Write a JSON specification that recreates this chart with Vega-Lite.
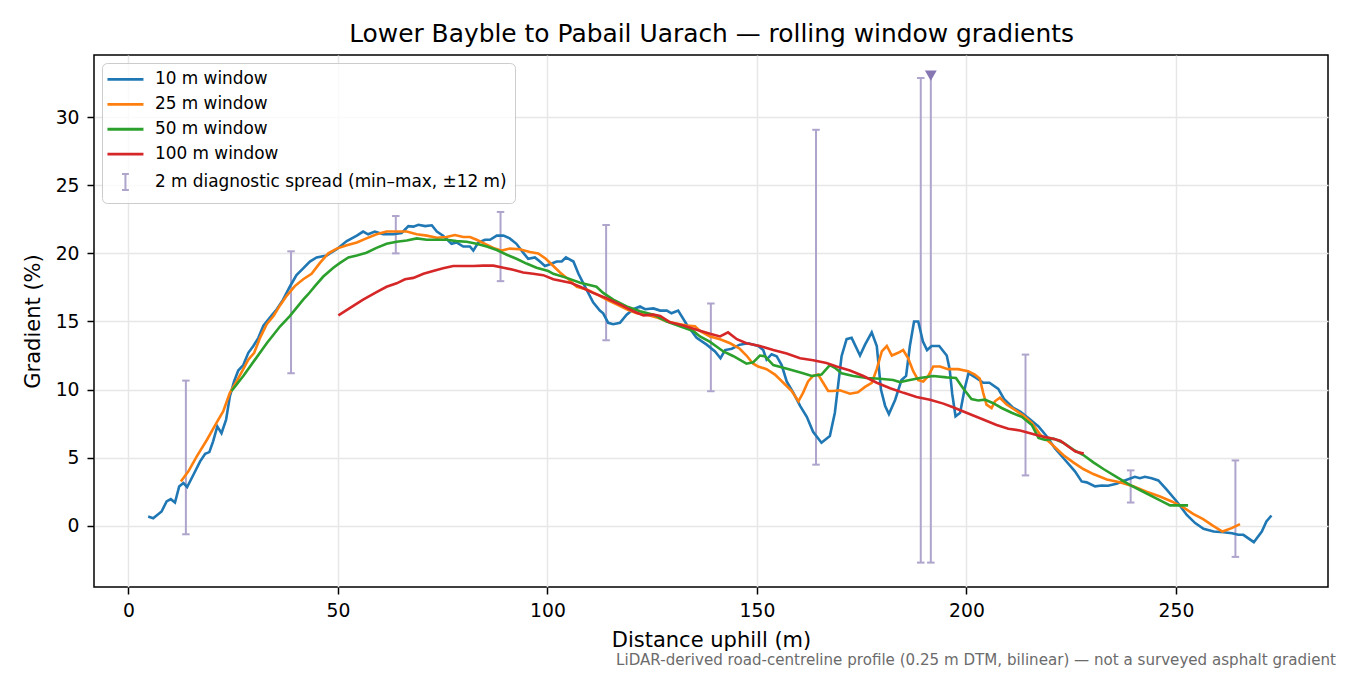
{
  "$schema": "https://vega.github.io/schema/vega-lite/v6.json",
  "background": "white",
  "autosize": {"type": "none"},
  "width": 1234,
  "height": 532,
  "padding": {"left": 94, "top": 55, "right": 22, "bottom": 88},
  "config": {
    "font": "DejaVu Sans",
    "view": {"stroke": "black", "strokeWidth": 1.5},
    "axis": {
      "grid": true,
      "gridColor": "#e7e7e7",
      "gridWidth": 1.5,
      "domain": false,
      "tickColor": "black",
      "tickWidth": 1.5,
      "tickSize": 7,
      "labelFontSize": 18.75,
      "labelColor": "black",
      "titleFontSize": 21,
      "titleColor": "black",
      "titleFontWeight": "normal"
    },
    "title": {"fontWeight": "normal", "color": "black"}
  },
  "title": {
    "text": "LiDAR-derived road-centreline profile (0.25 m DTM, bilinear) — not a surveyed asphalt gradient",
    "orient": "bottom",
    "anchor": "end",
    "fontSize": 15.1,
    "color": "#6b6b6b",
    "offset": 2.4,
    "dx": 8
  },
  "datasets": {
    "spread": [
      {"d": 13.7, "lo": -0.62, "hi": 10.66, "clipped": false},
      {"d": 38.8, "lo": 11.2, "hi": 20.15, "clipped": false},
      {"d": 63.8, "lo": 20.0, "hi": 22.74, "clipped": false},
      {"d": 88.8, "lo": 17.96, "hi": 23.04, "clipped": false},
      {"d": 114.0, "lo": 13.63, "hi": 22.08, "clipped": false},
      {"d": 139.0, "lo": 9.88, "hi": 16.32, "clipped": false},
      {"d": 164.1, "lo": 4.49, "hi": 29.07, "clipped": false},
      {"d": 189.1, "lo": -2.7, "hi": 32.87, "clipped": false},
      {"d": 191.5, "lo": -2.7, "hi": 33.05, "clipped": true},
      {"d": 214.1, "lo": 3.7, "hi": 12.57, "clipped": false},
      {"d": 239.2, "lo": 1.71, "hi": 4.07, "clipped": false},
      {"d": 264.2, "lo": -2.28, "hi": 4.8, "clipped": false}
    ],
    "w10": [
      {"d": 4.7, "g": 0.68}, {"d": 5.9, "g": 0.56}, {"d": 7.9, "g": 1.05}, {"d": 9.1, "g": 1.79},
      {"d": 10.1, "g": 1.96}, {"d": 11.1, "g": 1.71}, {"d": 12.1, "g": 2.89}, {"d": 13.1, "g": 3.14},
      {"d": 14.0, "g": 2.85}, {"d": 15.5, "g": 3.75}, {"d": 17.1, "g": 4.73}, {"d": 18.3, "g": 5.29},
      {"d": 19.3, "g": 5.41}, {"d": 20.2, "g": 6.2}, {"d": 21.2, "g": 7.3}, {"d": 22.2, "g": 6.8},
      {"d": 23.3, "g": 7.8}, {"d": 24.2, "g": 9.5}, {"d": 25.2, "g": 10.6}, {"d": 26.2, "g": 11.4},
      {"d": 27.4, "g": 11.8}, {"d": 28.6, "g": 12.7}, {"d": 29.8, "g": 13.2}, {"d": 31.0, "g": 13.8},
      {"d": 32.2, "g": 14.7}, {"d": 33.8, "g": 15.3}, {"d": 35.4, "g": 15.9}, {"d": 36.9, "g": 16.6},
      {"d": 38.5, "g": 17.55}, {"d": 40.1, "g": 18.4}, {"d": 41.7, "g": 18.9}, {"d": 43.3, "g": 19.4},
      {"d": 44.9, "g": 19.7}, {"d": 47.3, "g": 19.85}, {"d": 49.7, "g": 20.3}, {"d": 52.1, "g": 20.9},
      {"d": 54.5, "g": 21.3}, {"d": 56.0, "g": 21.6}, {"d": 57.2, "g": 21.4}, {"d": 58.8, "g": 21.6},
      {"d": 60.8, "g": 21.4}, {"d": 63.2, "g": 21.4}, {"d": 65.2, "g": 21.5}, {"d": 66.8, "g": 22.0},
      {"d": 68.0, "g": 21.96}, {"d": 69.2, "g": 22.1}, {"d": 70.8, "g": 22.0}, {"d": 72.4, "g": 22.06},
      {"d": 73.6, "g": 21.6}, {"d": 75.1, "g": 21.3}, {"d": 77.1, "g": 20.7}, {"d": 78.3, "g": 20.8},
      {"d": 79.9, "g": 20.5}, {"d": 81.5, "g": 20.5}, {"d": 82.3, "g": 20.2}, {"d": 83.5, "g": 20.8},
      {"d": 85.1, "g": 21.0}, {"d": 86.3, "g": 21.0}, {"d": 87.9, "g": 21.3}, {"d": 89.5, "g": 21.3},
      {"d": 91.0, "g": 21.1}, {"d": 92.6, "g": 20.7}, {"d": 94.2, "g": 20.05}, {"d": 95.4, "g": 19.6},
      {"d": 97.0, "g": 19.7}, {"d": 98.2, "g": 19.4}, {"d": 99.4, "g": 19.07}, {"d": 100.6, "g": 19.2},
      {"d": 102.2, "g": 19.4}, {"d": 103.4, "g": 19.4}, {"d": 104.4, "g": 19.7}, {"d": 106.2, "g": 19.4},
      {"d": 107.4, "g": 18.5}, {"d": 108.9, "g": 17.6}, {"d": 110.9, "g": 16.4}, {"d": 112.5, "g": 15.8},
      {"d": 113.3, "g": 15.6}, {"d": 114.5, "g": 14.9}, {"d": 115.7, "g": 14.8}, {"d": 117.3, "g": 14.9},
      {"d": 118.9, "g": 15.5}, {"d": 120.5, "g": 15.9}, {"d": 122.1, "g": 16.1}, {"d": 123.3, "g": 15.9},
      {"d": 125.3, "g": 15.96}, {"d": 126.9, "g": 15.8}, {"d": 128.5, "g": 15.8}, {"d": 129.6, "g": 15.6},
      {"d": 131.2, "g": 15.8}, {"d": 133.2, "g": 14.8}, {"d": 135.6, "g": 13.8}, {"d": 138.0, "g": 13.3},
      {"d": 140.0, "g": 12.8}, {"d": 141.3, "g": 12.3}, {"d": 142.4, "g": 12.9}, {"d": 144.0, "g": 13.0},
      {"d": 145.9, "g": 13.3}, {"d": 147.9, "g": 13.4}, {"d": 150.3, "g": 13.2}, {"d": 151.5, "g": 12.9},
      {"d": 152.3, "g": 12.2}, {"d": 153.5, "g": 12.6}, {"d": 154.7, "g": 12.45}, {"d": 155.9, "g": 11.8},
      {"d": 157.1, "g": 10.6}, {"d": 158.7, "g": 9.76}, {"d": 160.3, "g": 8.8}, {"d": 161.9, "g": 8.0},
      {"d": 163.4, "g": 6.9}, {"d": 165.4, "g": 6.1}, {"d": 167.4, "g": 6.6}, {"d": 168.6, "g": 8.3},
      {"d": 170.2, "g": 12.45}, {"d": 171.4, "g": 13.7}, {"d": 172.6, "g": 13.8}, {"d": 174.6, "g": 12.5},
      {"d": 175.8, "g": 13.3}, {"d": 177.4, "g": 14.2}, {"d": 178.6, "g": 13.2}, {"d": 179.6, "g": 10.0},
      {"d": 180.6, "g": 8.8}, {"d": 181.5, "g": 8.2}, {"d": 183.0, "g": 9.26}, {"d": 184.5, "g": 10.7},
      {"d": 185.6, "g": 11.0}, {"d": 186.5, "g": 13.2}, {"d": 187.5, "g": 15.0}, {"d": 188.5, "g": 15.0},
      {"d": 189.6, "g": 13.55}, {"d": 190.6, "g": 12.9}, {"d": 191.7, "g": 13.2}, {"d": 193.5, "g": 13.2},
      {"d": 195.3, "g": 12.5}, {"d": 196.0, "g": 11.5}, {"d": 196.6, "g": 9.7}, {"d": 197.4, "g": 8.04},
      {"d": 198.5, "g": 8.3}, {"d": 199.6, "g": 10.1}, {"d": 200.5, "g": 11.2}, {"d": 202.6, "g": 10.8},
      {"d": 204.0, "g": 10.5}, {"d": 205.5, "g": 10.5}, {"d": 207.6, "g": 10.05}, {"d": 209.0, "g": 9.3},
      {"d": 211.0, "g": 8.7}, {"d": 213.0, "g": 8.35}, {"d": 215.2, "g": 7.8}, {"d": 217.2, "g": 7.3},
      {"d": 219.1, "g": 6.6}, {"d": 221.1, "g": 5.7}, {"d": 223.5, "g": 4.85}, {"d": 225.9, "g": 4.0},
      {"d": 227.5, "g": 3.26}, {"d": 228.7, "g": 3.19}, {"d": 230.7, "g": 2.9}, {"d": 232.3, "g": 2.96},
      {"d": 233.8, "g": 2.94}, {"d": 235.8, "g": 3.09}, {"d": 237.8, "g": 3.33}, {"d": 240.2, "g": 3.6},
      {"d": 241.4, "g": 3.5}, {"d": 242.6, "g": 3.6}, {"d": 244.2, "g": 3.5}, {"d": 245.8, "g": 3.33},
      {"d": 247.8, "g": 2.65}, {"d": 250.2, "g": 1.79}, {"d": 252.6, "g": 0.8}, {"d": 254.6, "g": 0.2},
      {"d": 256.6, "g": -0.22}, {"d": 259.0, "g": -0.42}, {"d": 261.4, "g": -0.47}, {"d": 263.4, "g": -0.54},
      {"d": 264.9, "g": -0.66}, {"d": 266.1, "g": -0.66}, {"d": 268.6, "g": -1.2}, {"d": 270.5, "g": -0.42},
      {"d": 271.6, "g": 0.32}, {"d": 272.8, "g": 0.76}
    ],
    "w25": [
      {"d": 12.5, "g": 3.26}, {"d": 14.3, "g": 4.0}, {"d": 16.3, "g": 5.1}, {"d": 18.7, "g": 6.3},
      {"d": 21.0, "g": 7.55}, {"d": 22.6, "g": 8.4}, {"d": 24.2, "g": 9.76}, {"d": 25.8, "g": 10.6},
      {"d": 27.4, "g": 11.5}, {"d": 28.6, "g": 12.2}, {"d": 30.0, "g": 12.7}, {"d": 31.4, "g": 13.8},
      {"d": 33.0, "g": 14.8}, {"d": 34.6, "g": 15.4}, {"d": 36.2, "g": 16.2}, {"d": 37.8, "g": 16.9},
      {"d": 39.7, "g": 17.6}, {"d": 41.7, "g": 18.1}, {"d": 43.7, "g": 18.5}, {"d": 45.7, "g": 19.3},
      {"d": 47.7, "g": 20.0}, {"d": 49.7, "g": 20.35}, {"d": 52.1, "g": 20.6}, {"d": 54.5, "g": 20.8},
      {"d": 56.8, "g": 21.1}, {"d": 59.2, "g": 21.4}, {"d": 61.6, "g": 21.6}, {"d": 64.0, "g": 21.6},
      {"d": 66.4, "g": 21.6}, {"d": 68.8, "g": 21.4}, {"d": 71.2, "g": 21.3}, {"d": 73.6, "g": 21.15},
      {"d": 75.9, "g": 21.2}, {"d": 77.9, "g": 21.35}, {"d": 79.9, "g": 21.2}, {"d": 81.5, "g": 21.2},
      {"d": 83.1, "g": 21.0}, {"d": 85.1, "g": 20.7}, {"d": 87.1, "g": 20.4}, {"d": 89.1, "g": 20.2},
      {"d": 91.0, "g": 20.35}, {"d": 93.4, "g": 20.3}, {"d": 95.8, "g": 20.1}, {"d": 97.8, "g": 20.0},
      {"d": 99.6, "g": 19.6}, {"d": 101.4, "g": 19.07}, {"d": 103.0, "g": 18.6}, {"d": 104.6, "g": 18.2},
      {"d": 107.0, "g": 17.55}, {"d": 109.4, "g": 17.35}, {"d": 111.7, "g": 17.0}, {"d": 114.1, "g": 16.6},
      {"d": 116.5, "g": 16.25}, {"d": 118.9, "g": 15.9}, {"d": 121.3, "g": 15.6}, {"d": 123.7, "g": 15.5},
      {"d": 126.1, "g": 15.3}, {"d": 128.5, "g": 15.0}, {"d": 130.8, "g": 14.85}, {"d": 133.2, "g": 14.7},
      {"d": 135.2, "g": 14.65}, {"d": 136.4, "g": 14.3}, {"d": 138.8, "g": 13.9}, {"d": 141.2, "g": 13.7},
      {"d": 143.6, "g": 13.4}, {"d": 145.9, "g": 13.0}, {"d": 147.5, "g": 12.5}, {"d": 149.1, "g": 11.9},
      {"d": 150.3, "g": 11.7}, {"d": 152.3, "g": 11.5}, {"d": 154.3, "g": 11.1}, {"d": 156.3, "g": 10.5},
      {"d": 158.3, "g": 9.9}, {"d": 159.9, "g": 9.14}, {"d": 161.0, "g": 9.76}, {"d": 162.2, "g": 10.6},
      {"d": 163.4, "g": 11.0}, {"d": 164.6, "g": 11.1}, {"d": 165.8, "g": 10.5}, {"d": 167.0, "g": 9.9},
      {"d": 168.2, "g": 9.9}, {"d": 169.8, "g": 9.95}, {"d": 172.2, "g": 9.7}, {"d": 174.1, "g": 9.8},
      {"d": 175.8, "g": 10.2}, {"d": 177.4, "g": 10.5}, {"d": 178.6, "g": 11.5}, {"d": 179.8, "g": 12.8},
      {"d": 181.0, "g": 13.2}, {"d": 182.2, "g": 12.5}, {"d": 183.7, "g": 12.7}, {"d": 184.9, "g": 12.9},
      {"d": 186.1, "g": 12.3}, {"d": 187.3, "g": 11.35}, {"d": 188.5, "g": 10.7}, {"d": 189.7, "g": 10.6},
      {"d": 190.9, "g": 11.0}, {"d": 192.1, "g": 11.7}, {"d": 193.7, "g": 11.7}, {"d": 195.6, "g": 11.5},
      {"d": 198.0, "g": 11.5}, {"d": 200.4, "g": 11.35}, {"d": 202.0, "g": 11.1}, {"d": 203.2, "g": 10.8},
      {"d": 204.0, "g": 9.76}, {"d": 204.8, "g": 8.9}, {"d": 206.0, "g": 8.65}, {"d": 206.8, "g": 9.14},
      {"d": 208.0, "g": 9.4}, {"d": 209.6, "g": 8.9}, {"d": 211.6, "g": 8.5}, {"d": 213.6, "g": 8.1},
      {"d": 215.6, "g": 7.55}, {"d": 217.6, "g": 6.7}, {"d": 220.0, "g": 6.1}, {"d": 223.1, "g": 5.2},
      {"d": 225.5, "g": 4.66}, {"d": 227.9, "g": 4.17}, {"d": 230.3, "g": 3.8}, {"d": 233.5, "g": 3.4},
      {"d": 236.6, "g": 3.2}, {"d": 239.8, "g": 2.9}, {"d": 243.0, "g": 2.5}, {"d": 246.2, "g": 2.15},
      {"d": 249.0, "g": 1.79}, {"d": 251.7, "g": 1.37}, {"d": 254.1, "g": 0.88}, {"d": 256.5, "g": 0.49},
      {"d": 258.9, "g": 0.0}, {"d": 261.1, "g": -0.42}, {"d": 263.3, "g": -0.17}, {"d": 265.3, "g": 0.12}
    ],
    "w50": [
      {"d": 24.6, "g": 9.9}, {"d": 27.4, "g": 11.0}, {"d": 30.2, "g": 12.2}, {"d": 33.0, "g": 13.4},
      {"d": 36.2, "g": 14.65}, {"d": 38.5, "g": 15.4}, {"d": 40.1, "g": 16.0}, {"d": 41.7, "g": 16.6},
      {"d": 42.9, "g": 17.0}, {"d": 44.5, "g": 17.6}, {"d": 46.5, "g": 18.3}, {"d": 48.9, "g": 18.95},
      {"d": 50.5, "g": 19.3}, {"d": 52.5, "g": 19.7}, {"d": 54.5, "g": 19.85}, {"d": 56.8, "g": 20.05},
      {"d": 59.2, "g": 20.4}, {"d": 61.6, "g": 20.7}, {"d": 64.0, "g": 20.85}, {"d": 66.4, "g": 20.95},
      {"d": 68.8, "g": 21.1}, {"d": 71.2, "g": 21.0}, {"d": 73.6, "g": 21.0}, {"d": 75.9, "g": 21.0},
      {"d": 78.3, "g": 20.9}, {"d": 80.7, "g": 20.85}, {"d": 83.1, "g": 20.7}, {"d": 85.5, "g": 20.5},
      {"d": 87.9, "g": 20.25}, {"d": 90.3, "g": 19.9}, {"d": 92.6, "g": 19.6}, {"d": 95.0, "g": 19.25},
      {"d": 97.4, "g": 18.95}, {"d": 100.2, "g": 18.7}, {"d": 101.4, "g": 18.5}, {"d": 104.6, "g": 18.2},
      {"d": 107.8, "g": 17.85}, {"d": 111.7, "g": 17.55}, {"d": 113.3, "g": 17.1}, {"d": 115.7, "g": 16.6},
      {"d": 118.9, "g": 16.1}, {"d": 122.1, "g": 15.75}, {"d": 125.3, "g": 15.5}, {"d": 128.5, "g": 15.0},
      {"d": 131.6, "g": 14.65}, {"d": 134.8, "g": 14.3}, {"d": 136.4, "g": 13.9}, {"d": 138.8, "g": 13.5},
      {"d": 142.0, "g": 12.8}, {"d": 144.4, "g": 12.45}, {"d": 147.5, "g": 11.9}, {"d": 149.1, "g": 12.0},
      {"d": 150.7, "g": 12.5}, {"d": 151.9, "g": 12.45}, {"d": 153.9, "g": 11.8}, {"d": 156.3, "g": 11.6},
      {"d": 158.7, "g": 11.4}, {"d": 161.0, "g": 11.2}, {"d": 163.1, "g": 11.0}, {"d": 165.4, "g": 11.1},
      {"d": 167.4, "g": 11.8}, {"d": 168.6, "g": 11.6}, {"d": 170.2, "g": 11.2}, {"d": 173.0, "g": 11.0},
      {"d": 176.2, "g": 10.85}, {"d": 179.4, "g": 10.8}, {"d": 182.5, "g": 10.7}, {"d": 184.1, "g": 10.55},
      {"d": 186.5, "g": 10.7}, {"d": 188.9, "g": 10.85}, {"d": 192.1, "g": 11.0}, {"d": 195.3, "g": 10.9},
      {"d": 197.5, "g": 10.85}, {"d": 199.2, "g": 10.1}, {"d": 201.2, "g": 9.3}, {"d": 202.8, "g": 9.2},
      {"d": 204.4, "g": 9.26}, {"d": 206.4, "g": 9.0}, {"d": 208.4, "g": 8.65}, {"d": 210.8, "g": 8.3},
      {"d": 213.2, "g": 8.0}, {"d": 215.6, "g": 7.4}, {"d": 217.2, "g": 6.45}, {"d": 218.8, "g": 6.3},
      {"d": 220.8, "g": 6.4}, {"d": 223.1, "g": 6.1}, {"d": 225.5, "g": 5.6}, {"d": 227.9, "g": 5.2},
      {"d": 230.3, "g": 4.66}, {"d": 232.7, "g": 4.17}, {"d": 235.8, "g": 3.6}, {"d": 239.0, "g": 3.0},
      {"d": 242.2, "g": 2.5}, {"d": 245.4, "g": 2.0}, {"d": 248.6, "g": 1.5}, {"d": 251.0, "g": 1.5},
      {"d": 252.9, "g": 1.5}
    ],
    "w100": [
      {"d": 50.1, "g": 15.45}, {"d": 52.9, "g": 16.0}, {"d": 56.0, "g": 16.6}, {"d": 59.2, "g": 17.15},
      {"d": 61.6, "g": 17.55}, {"d": 64.0, "g": 17.8}, {"d": 66.0, "g": 18.1}, {"d": 68.0, "g": 18.2},
      {"d": 70.4, "g": 18.5}, {"d": 72.7, "g": 18.7}, {"d": 75.1, "g": 18.9}, {"d": 77.5, "g": 19.07},
      {"d": 79.9, "g": 19.07}, {"d": 82.3, "g": 19.07}, {"d": 84.7, "g": 19.1}, {"d": 87.1, "g": 19.1},
      {"d": 89.5, "g": 18.95}, {"d": 91.8, "g": 18.8}, {"d": 94.2, "g": 18.6}, {"d": 96.6, "g": 18.5},
      {"d": 99.0, "g": 18.4}, {"d": 101.4, "g": 18.1}, {"d": 105.4, "g": 17.85}, {"d": 107.8, "g": 17.55},
      {"d": 110.9, "g": 17.1}, {"d": 114.1, "g": 16.7}, {"d": 117.3, "g": 16.25}, {"d": 120.5, "g": 15.75},
      {"d": 122.9, "g": 15.45}, {"d": 125.3, "g": 15.5}, {"d": 126.9, "g": 15.4}, {"d": 129.2, "g": 14.95},
      {"d": 132.4, "g": 14.7}, {"d": 135.6, "g": 14.4}, {"d": 138.8, "g": 14.1}, {"d": 141.2, "g": 13.9},
      {"d": 143.1, "g": 14.2}, {"d": 145.2, "g": 13.7}, {"d": 147.5, "g": 13.4}, {"d": 150.7, "g": 13.2},
      {"d": 153.9, "g": 12.9}, {"d": 157.1, "g": 12.65}, {"d": 160.3, "g": 12.3}, {"d": 163.4, "g": 12.15},
      {"d": 166.6, "g": 11.95}, {"d": 169.0, "g": 11.7}, {"d": 172.2, "g": 11.4}, {"d": 175.4, "g": 11.0},
      {"d": 178.6, "g": 10.5}, {"d": 181.8, "g": 10.1}, {"d": 185.0, "g": 9.76}, {"d": 188.1, "g": 9.46},
      {"d": 191.3, "g": 9.26}, {"d": 194.5, "g": 8.97}, {"d": 196.8, "g": 8.7}, {"d": 200.0, "g": 8.3},
      {"d": 204.0, "g": 7.8}, {"d": 207.2, "g": 7.4}, {"d": 210.0, "g": 7.13}, {"d": 212.8, "g": 7.0},
      {"d": 215.2, "g": 6.8}, {"d": 217.6, "g": 6.6}, {"d": 220.0, "g": 6.45}, {"d": 222.4, "g": 6.25},
      {"d": 224.4, "g": 5.8}, {"d": 226.0, "g": 5.46}, {"d": 228.0, "g": 5.3}
    ]
  },
  "layer": [
    {
      "data": {"name": "spread"},
      "mark": {"type": "rule", "strokeWidth": 2},
      "encoding": {
        "x": {"field": "d", "type": "quantitative", "scale": {"domain": [-8.23, 286.3], "nice": false, "zero": false}, "axis": null},
        "y": {"field": "lo", "type": "quantitative", "scale": {"domain": [-4.49, 34.56], "nice": false, "zero": false}, "title": "Gradient (%)", "axis": {"values": [0, 5, 10, 15, 20, 25, 30], "grid": true, "labelPadding": 8, "titlePadding": 12}},
        "y2": {"field": "hi"},
        "color": {
          "datum": "2 m diagnostic spread (min–max, ±12 m)",
          "scale": {
            "domain": ["10 m window", "25 m window", "50 m window", "100 m window", "2 m diagnostic spread (min–max, ±12 m)"],
            "range": ["#1f77b4", "#ff7f0e", "#2ca02c", "#d62728", "#aea4cc"]
          },
          "legend": {
            "title": null,
            "orient": "none",
            "legendX": 8,
            "legendY": 8,
            "padding": 8,
            "rowPadding": 6.9,
            "symbolOffset": 7,
            "labelOffset": 21,
            "symbolSize": 324,
            "symbolStrokeWidth": 2.8,
            "symbolType": "M-2,0L2,0",
            "labelFontSize": 16.9,
            "labelColor": "black",
            "labelLimit": 600,
            "fillColor": "rgba(255,255,255,0.8)",
            "strokeColor": "#cccccc",
            "cornerRadius": 5,
            "encode": {
              "symbols": {
                "update": {
                  "shape": {"signal": "datum.index === 4 ? 'M0,-0.89L0,0.89M-0.38,-0.89L0.38,-0.89M-0.38,0.89L0.38,0.89' : 'M-2,0L2,0'"},
                  "strokeWidth": {"signal": "datum.index === 4 ? 2 : 2.8"}
                }
              }
            }
          }
        }
      }
    },
    {
      "data": {"name": "spread"},
      "mark": {"type": "tick", "orient": "horizontal", "size": 7.5, "thickness": 2, "color": "#aea4cc", "opacity": 1},
      "encoding": {
        "x": {"field": "d", "type": "quantitative", "axis": null},
        "y": {"field": "lo", "type": "quantitative", "title": "Gradient (%)", "axis": {"values": [0, 5, 10, 15, 20, 25, 30], "grid": true, "labelPadding": 8, "titlePadding": 12}}
      }
    },
    {
      "data": {"name": "spread"},
      "transform": [{"filter": "!datum.clipped"}],
      "mark": {"type": "tick", "orient": "horizontal", "size": 7.5, "thickness": 2, "color": "#aea4cc", "opacity": 1},
      "encoding": {
        "x": {"field": "d", "type": "quantitative", "axis": null},
        "y": {"field": "hi", "type": "quantitative", "title": "Gradient (%)", "axis": {"values": [0, 5, 10, 15, 20, 25, 30], "grid": true, "labelPadding": 8, "titlePadding": 12}}
      }
    },
    {
      "data": {"name": "spread"},
      "transform": [{"filter": "datum.clipped"}],
      "mark": {"type": "point", "shape": "triangle-down", "filled": true, "size": 140, "color": "#8677b2", "opacity": 1},
      "encoding": {
        "x": {
          "field": "d",
          "type": "quantitative",
          "title": "Lower Bayble to Pabail Uarach — rolling window gradients",
          "axis": {"orient": "top", "labels": false, "ticks": false, "grid": false, "domain": false, "titleFontSize": 24.9, "titlePadding": 9}
        },
        "y": {"field": "hi", "type": "quantitative", "title": "Gradient (%)", "axis": {"values": [0, 5, 10, 15, 20, 25, 30], "grid": true, "labelPadding": 8, "titlePadding": 12}}
      }
    },
    {
      "data": {"name": "w10"},
      "mark": {"type": "line", "strokeWidth": 2.6},
      "encoding": {
        "x": {"field": "d", "type": "quantitative", "title": "Distance uphill (m)", "axis": {"orient": "bottom", "values": [0, 50, 100, 150, 200, 250], "grid": true, "labelPadding": 7, "titlePadding": 10}},
        "y": {"field": "g", "type": "quantitative", "title": "Gradient (%)", "axis": {"values": [0, 5, 10, 15, 20, 25, 30], "grid": true, "labelPadding": 8, "titlePadding": 12}},
        "color": {"datum": "10 m window"}
      }
    },
    {
      "data": {"name": "w25"},
      "mark": {"type": "line", "strokeWidth": 2.6},
      "encoding": {
        "x": {"field": "d", "type": "quantitative", "axis": null},
        "y": {"field": "g", "type": "quantitative", "title": "Gradient (%)", "axis": {"values": [0, 5, 10, 15, 20, 25, 30], "grid": true, "labelPadding": 8, "titlePadding": 12}},
        "color": {"datum": "25 m window"}
      }
    },
    {
      "data": {"name": "w50"},
      "mark": {"type": "line", "strokeWidth": 2.6},
      "encoding": {
        "x": {"field": "d", "type": "quantitative", "axis": null},
        "y": {"field": "g", "type": "quantitative", "title": "Gradient (%)", "axis": {"values": [0, 5, 10, 15, 20, 25, 30], "grid": true, "labelPadding": 8, "titlePadding": 12}},
        "color": {"datum": "50 m window"}
      }
    },
    {
      "data": {"name": "w100"},
      "mark": {"type": "line", "strokeWidth": 2.6},
      "encoding": {
        "x": {"field": "d", "type": "quantitative", "axis": null},
        "y": {"field": "g", "type": "quantitative", "title": "Gradient (%)", "axis": {"values": [0, 5, 10, 15, 20, 25, 30], "grid": true, "labelPadding": 8, "titlePadding": 12}},
        "color": {"datum": "100 m window"}
      }
    }
  ]
}
